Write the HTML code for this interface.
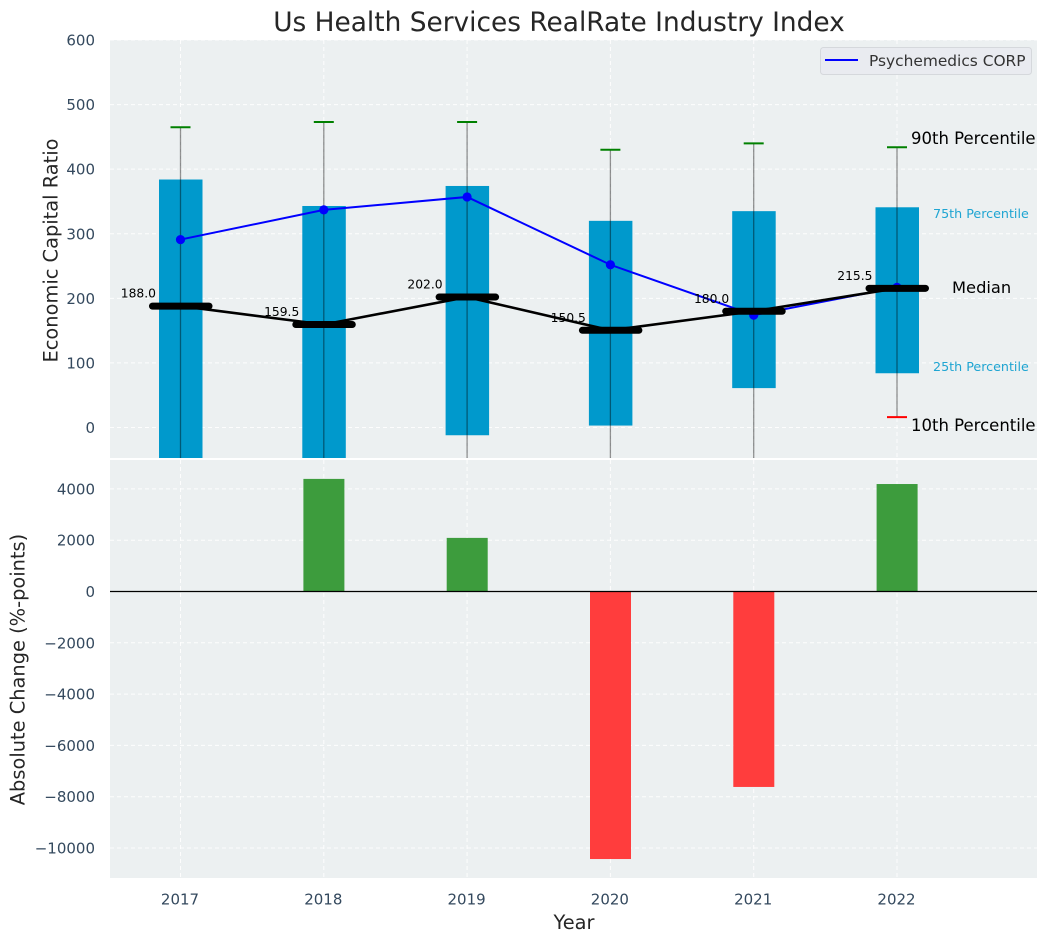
<!DOCTYPE html>
<html>
<head>
<meta charset="utf-8">
<title>Us Health Services RealRate Industry Index</title>
<style>
html,body{margin:0;padding:0;background:#fff;}
svg{display:block;font-family:"DejaVu Sans","Liberation Sans",sans-serif;}
</style>
</head>
<body>
<svg id="chart" width="1048" height="942" viewBox="0 0 1048 942" xmlns="http://www.w3.org/2000/svg">
<defs>
<clipPath id="clip-top"><rect x="110" y="40" width="927" height="418"/></clipPath>
<clipPath id="clip-bottom"><rect x="110" y="460" width="927" height="418"/></clipPath>
</defs>
<rect x="110" y="40" width="927" height="418" fill="#ecf0f1"/>
<rect x="110" y="460" width="927" height="418" fill="#ecf0f1"/>
<g id="grid"></g>
<g id="bottom-marks" clip-path="url(#clip-bottom)"></g>
<g id="top-marks" clip-path="url(#clip-top)"></g>
<g id="ticks" fill="#34495e" font-size="15"></g>
<text x="559" y="31" text-anchor="middle" font-size="26.4" fill="#262626">Us Health Services RealRate Industry Index</text>
<text transform="translate(57.5,250.5) rotate(-90)" text-anchor="middle" font-size="19.4" fill="#262626">Economic Capital Ratio</text>
<text transform="translate(24.5,669.5) rotate(-90)" text-anchor="middle" font-size="19.4" fill="#262626">Absolute Change (%-points)</text>
<text x="574" y="929" text-anchor="middle" font-size="19.4" fill="#262626">Year</text>
<g>
<text x="911" y="144" font-size="16.5" fill="#000">90th Percentile</text>
<text x="933" y="218" font-size="12.7" fill="#1fa5d2">75th Percentile</text>
<text x="952" y="293" font-size="16.3" fill="#000">Median</text>
<text x="933" y="371" font-size="12.7" fill="#1fa5d2">25th Percentile</text>
<text x="911" y="431" font-size="16.5" fill="#000">10th Percentile</text>
</g>
<g>
<rect x="820.5" y="47.5" width="211" height="27" rx="3" fill="#e9ebf0" stroke="#d5d8dc"/>
<line x1="825" y1="60" x2="858" y2="60" stroke="#0000ff" stroke-width="2"/>
<text x="869" y="66" font-size="15.4" fill="#333">Psychemedics CORP</text>
</g>
</svg>
<script>
const years = [2017, 2018, 2019, 2020, 2021, 2022];
const p90 = [465, 473, 473, 430, 440, 434];
const p75 = [384, 343, 374, 320, 335, 341];
const medians = [188.0, 159.5, 202.0, 150.5, 180.0, 215.5];
const p25 = [-100, -80, -12, 3, 61, 84];
const p10 = [-130, -150, -100, -120, -80, 16];
const company = [291, 337, 357, 252, 174, 217];
const changes = [0, 4390, 2090, -10430, -7620, 4190];
const topTicks = [0, 100, 200, 300, 400, 500, 600];
const bottomTicks = [-10000, -8000, -6000, -4000, -2000, 0, 2000, 4000];

const NS = 'http://www.w3.org/2000/svg';
function xScale(v) { return 180.5 + (v - 2017) * 143.3; }
function yTop(v) { return 427.5 - v * 0.6458; }
function yBottom(v) { return 591.5 - v * 0.02565; }
function make(tag, parent, props) {
  const el = document.createElementNS(NS, tag);
  for (const k in props) el.setAttribute(k, props[k]);
  parent.appendChild(el);
  return el;
}
const grid = document.getElementById('grid');
const ticks = document.getElementById('ticks');
const topG = document.getElementById('top-marks');
const botG = document.getElementById('bottom-marks');
const dash = {stroke: '#ffffff', 'stroke-width': 1, 'stroke-dasharray': '4 3', opacity: 0.9};

topTicks.forEach(function (t) {
  const y = yTop(t);
  const g = make('line', grid, Object.assign({x1: 110, x2: 1037, y1: y, y2: y}, dash));
  
  
  const l = make('text', ticks, {x: 95, y: y + 5.5, 'text-anchor': 'end'});
  
  
  l.textContent = t;
});
bottomTicks.forEach(function (t) {
  const y = yBottom(t);
  const g = make('line', grid, Object.assign({x1: 110, x2: 1037, y1: y, y2: y}, dash));
  
  
  const l = make('text', ticks, {x: 95, y: y + 5.5, 'text-anchor': 'end'});
  
  
  l.textContent = String(t).replace('-', '\u2212');
});
years.forEach(function (yr) {
  const x = xScale(yr);
  const g1 = make('line', grid, Object.assign({x1: x, x2: x, y1: 40, y2: 458}, dash));
  
  
  const g2 = make('line', grid, Object.assign({x1: x, x2: x, y1: 460, y2: 878}, dash));
  
  
  const l = make('text', ticks, {x: x - 0.5, y: 904.5, 'text-anchor': 'middle'});
  
  
  l.textContent = yr;
});

// bottom panel bars
changes.forEach(function (v, i) {
  if (v === 0) return;
  const x = xScale(years[i]);
  const y0 = yBottom(0), y1 = yBottom(v);
  const b = make('rect', botG, {x: x - 20.4, y: Math.min(y0, y1), width: 41, height: Math.abs(y1 - y0), fill: v > 0 ? '#3d9c3d' : '#ff3d3d'});
  
  
});
const zero = make('line', botG, {x1: 110, x2: 1037, y1: yBottom(0), y2: yBottom(0), stroke: '#000', 'stroke-width': 1.2});



// top panel boxes
years.forEach(function (yr, i) {
  const x = xScale(yr);
  const box = make('rect', topG, {x: x - 21.5, y: yTop(p75[i]), width: 43.5, height: yTop(p25[i]) - yTop(p75[i]), fill: '#0099cc'});
  
  
  const w = make('line', topG, {x1: x, x2: x, y1: yTop(p90[i]), y2: yTop(p10[i]), stroke: '#000', 'stroke-opacity': 0.42, 'stroke-width': 1.3});
  
  
  const c1 = make('line', topG, {x1: x - 10, x2: x + 10, y1: yTop(p90[i]), y2: yTop(p90[i]), stroke: '#008000', 'stroke-width': 2});
  
  
  const c2 = make('line', topG, {x1: x - 10, x2: x + 10, y1: yTop(p10[i]), y2: yTop(p10[i]), stroke: '#ff0000', 'stroke-width': 2});
  
  
});

// company series
const companyLine = make('polyline', topG, {points: company.map(function (v, i) { return xScale(years[i]) + ',' + yTop(v); }).join(' '), fill: 'none', stroke: '#0000ff', 'stroke-width': 2});


company.forEach(function (v, i) {
  const p = make('circle', topG, {cx: xScale(years[i]), cy: yTop(v), r: 4.6, fill: '#0000ff'});
  
  
});

// median series
const medianLine = make('polyline', topG, {points: medians.map(function (v, i) { return xScale(years[i]) + ',' + yTop(v); }).join(' '), fill: 'none', stroke: '#000', 'stroke-width': 2.6});


medians.forEach(function (v, i) {
  const x = xScale(years[i]), y = yTop(v);
  const m = make('line', topG, {x1: x - 28, x2: x + 28.5, y1: y, y2: y, stroke: '#000', 'stroke-width': 7, 'stroke-linecap': 'round'});
  
  
  const t = make('text', topG, {x: x - 24.5, y: y - 8.5, 'text-anchor': 'end', 'font-size': 12.3, fill: '#000'});
  
  
  t.textContent = v.toFixed(1);
});
</script>
</body>
</html>
